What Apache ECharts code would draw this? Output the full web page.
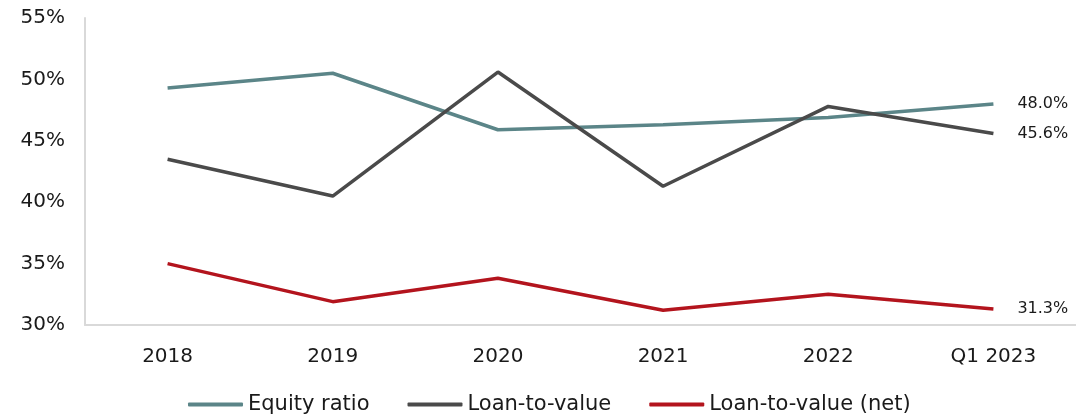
<!DOCTYPE html>
<html>
<head>
<meta charset="utf-8">
<script src="https://cdn.jsdelivr.net/npm/echarts@6/dist/echarts.min.js"></script>
<style>
  html, body { margin: 0; padding: 0; background: #fff; }
  #chart { width: 1076px; height: 420px; }
</style>
</head>
<body>
<div id="chart"></div>
<script>
var categories = ['2018', '2019', '2020', '2021', '2022', 'Q1 2023'];
var equityRatio = [49.3, 50.5, 45.9, 46.3, 46.9, 48.0];
var loanToValue = [43.5, 40.5, 50.6, 41.3, 47.8, 45.6];
var loanToValueNet = [35.0, 31.9, 33.8, 31.2, 32.5, 31.3];

var font = '"DejaVu Sans", Verdana, sans-serif';

function lineSeries(name, data, color)
{
    return {
        name: name,
        type: 'line',
        data: data,
        symbol: 'none',
        lineStyle: { width: 3.5, color: color },
        itemStyle: { color: color },
        endLabel: {
            show: true,
            distance: 24,
            fontFamily: font,
            fontSize: 16,
            color: '#1a1a1a',
            formatter: function (p) { return p.value.toFixed(1) + '%'; }
        },
        animation: false
    };
}

var chart = echarts.init(document.getElementById('chart'));
chart.setOption({
    animation: false,
    grid: { left: 85, right: -6, top: 18, bottom: 95, containLabel: false },
    legend: {
        left: 183,
        bottom: 0,
        icon: 'roundRect',
        itemWidth: 55,
        itemHeight: 4,
        itemGap: 38,
        textStyle: { fontFamily: font, fontSize: 21, color: '#1a1a1a' },
        data: ['Equity ratio', 'Loan-to-value', 'Loan-to-value (net)']
    },
    xAxis: {
        type: 'category',
        data: categories,
        boundaryGap: true,
        axisLine: { lineStyle: { color: '#d9d9d9', width: 2 } },
        axisTick: { show: false },
        axisLabel: { fontFamily: font, fontSize: 20, color: '#1a1a1a', margin: 22 }
    },
    yAxis: {
        type: 'value',
        min: 30,
        max: 55,
        interval: 5,
        axisLine: { show: true, lineStyle: { color: '#d9d9d9', width: 2 } },
        axisTick: { show: false },
        splitLine: { show: false },
        axisLabel: { fontFamily: font, fontSize: 20, color: '#1a1a1a', margin: 20, formatter: '{value}%' }
    },
    series: [
        lineSeries('Equity ratio', equityRatio, '#5b8588'),
        lineSeries('Loan-to-value', loanToValue, '#4a4a4a'),
        lineSeries('Loan-to-value (net)', loanToValueNet, '#b3141d')
    ]
});
</script>
</body>
</html>
